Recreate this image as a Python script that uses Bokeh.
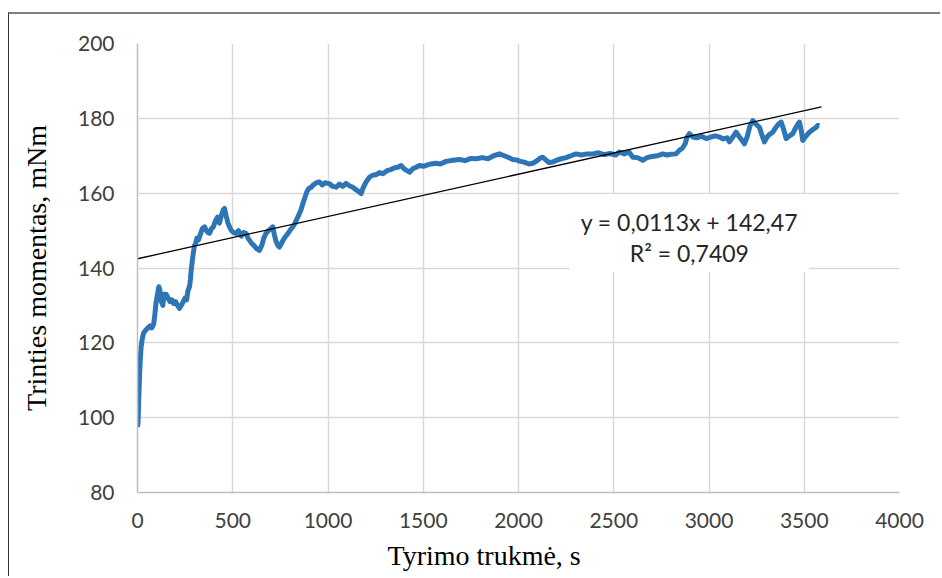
from bokeh.plotting import figure
from bokeh.models import Range1d, Label, Title, FixedTicker, ColumnDataSource
from bokeh.embed import file_html
from bokeh.resources import INLINE

# Friction torque over the test duration
time_s = [0, 3, 6, 10, 14, 19, 25, 31, 37, 45, 55, 65, 75, 85, 92, 98, 105, 112, 118, 125,
          133, 140, 150, 160, 170, 180, 190, 200, 210, 220, 230, 240, 250, 258, 265, 273, 278, 282, 288, 293,
          299, 305, 312, 320, 330, 340, 352, 362, 370, 378, 388, 398, 408, 420, 430, 440, 450, 457, 465, 475,
          483, 493, 505, 518, 530, 545, 558, 570, 580, 588, 600, 612, 625, 640, 652, 663, 675, 688, 700, 710,
          718, 728, 737, 745, 755, 765, 778, 789, 800, 812, 822, 833, 845, 858, 868, 880, 890, 900, 912, 925,
          940, 955, 970, 985, 1008, 1025, 1043, 1060, 1078, 1095, 1112, 1130, 1145, 1160, 1174, 1185, 1200, 1218, 1235, 1255,
          1270, 1288, 1310, 1330, 1350, 1370, 1384, 1400, 1415, 1428, 1445, 1465, 1480, 1500, 1515, 1540, 1565, 1590, 1620, 1655,
          1690, 1720, 1750, 1778, 1810, 1840, 1870, 1900, 1925, 1950, 1970, 1988, 2010, 2030, 2055, 2075, 2095, 2115, 2128, 2145,
          2160, 2180, 2200, 2225, 2250, 2275, 2302, 2330, 2360, 2390, 2420, 2450, 2480, 2510, 2530, 2555, 2580, 2600, 2625, 2652,
          2675, 2700, 2730, 2757, 2780, 2800, 2827, 2845, 2860, 2875, 2885, 2897, 2915, 2935, 2960, 2985, 3010, 3035, 3055, 3075,
          3095, 3107, 3125, 3142, 3160, 3175, 3186, 3200, 3215, 3230, 3245, 3265, 3278, 3291, 3305, 3320, 3335, 3350, 3365, 3379,
          3392, 3405, 3420, 3440, 3455, 3467, 3475, 3485, 3492, 3505, 3527, 3545, 3560, 3571, 3580]
torque_mNm = [97.5, 99, 104, 110, 115, 119, 121, 122.5, 123, 123.5, 124, 124.5, 124, 125, 128, 131, 133, 135, 134, 131,
              130, 133, 133, 132, 131, 131.5, 130.5, 131, 130, 129.2, 130, 131, 132, 131.5, 134, 135, 137, 139.5, 142, 144,
              146, 146.5, 148, 147.5, 149, 150.5, 151, 150, 149.5, 149.3, 150.5, 151, 152.5, 153.6, 152, 154, 155.5, 155.9, 154, 152,
              151, 150, 149.5, 149.2, 150, 148.5, 149.5, 149.2, 148, 147.4, 146.5, 146, 145.2, 144.7, 146, 148, 149.3, 150, 150.5, 151,
              149, 147, 146, 145.6, 146.5, 147.5, 148.5, 149.2, 150, 150.8, 151.5, 152.7, 154, 155.5, 157.2, 159, 160.5, 161.3, 161.6, 162.3,
              162.8, 163, 162.2, 162.8, 162.5, 161.8, 161.6, 162.4, 161.8, 162.6, 162, 161.6, 161, 160.5, 159.9, 161.5, 163, 164.3, 164.8, 165,
              165.5, 165.2, 166, 166.3, 166.8, 167, 167.4, 166.5, 166, 165.6, 166.5, 167, 167.4, 167.2, 167.4, 167.8, 168, 167.8, 168.5, 168.8,
              169, 168.7, 169.3, 169.2, 169.5, 169.2, 170, 170.5, 170, 169.5, 169, 168.9, 168.5, 168.3, 167.8, 168, 168.6, 169.4, 169.6, 168.8,
              168.2, 168.3, 168.8, 169.2, 169.5, 170, 170.5, 170.2, 170.5, 170.5, 170.8, 170.3, 170.6, 170.2, 171, 170.5, 171, 169.6, 169.5, 168.8,
              169.5, 169.8, 170, 170.5, 170.2, 170.4, 170.5, 171.5, 172, 173.2, 175, 175.9, 175, 174.8, 175.2, 174.6, 175, 175.3, 175, 174.5,
              174.8, 173.7, 175, 176.3, 175, 174, 173.2, 175, 178, 179.4, 178.5, 177.6, 175.5, 173.7, 175, 175.8, 176.3, 177.5, 178.5, 179,
              177, 174.6, 175.2, 175.9, 177.5, 178.5, 179, 176.5, 174.1, 175, 176.3, 177, 177.5, 178.1, 178]

# Linear trend line parameters
slope = 0.0113
intercept = 142.47
r_squared = "0,7409"
trend_x = [0, 3590]

x_ticks = [0, 500, 1000, 1500, 2000, 2500, 3000, 3500, 4000]
y_ticks = [80, 100, 120, 140, 160, 180, 200]

trend_y = [slope * t + intercept for t in trend_x]

p = figure(width=932, height=564, output_backend="svg", toolbar_location=None,
           x_range=Range1d(0, 4000), y_range=Range1d(80, 200),
           min_border_left=128, min_border_right=42, min_border_top=29, min_border_bottom=86,
           background_fill_color="white", border_fill_color="white")
p.outline_line_color = None
p.styles = {"margin-left": "8px", "margin-top": "12px",
            "border-left": "1.5px solid #333333", "border-top": "2px solid #808080"}

p.xaxis.ticker = FixedTicker(ticks=x_ticks)
p.yaxis.ticker = FixedTicker(ticks=y_ticks)
for ax in (p.xaxis, p.yaxis):
    ax.axis_line_color = "#bfbfbf"
    ax.axis_line_width = 1.5
    ax.major_tick_line_color = None
    ax.minor_tick_line_color = None
    ax.major_tick_out = 0
    ax.major_tick_in = 0
    ax.major_label_text_font = "Lato"
    ax.major_label_text_font_size = "21px"
    ax.major_label_text_color = "#404040"
p.xaxis.major_label_standoff = 20
p.yaxis.major_label_standoff = 23

p.yaxis.axis_label = "Trinties momentas, mNm"
p.yaxis.axis_label_text_font = "Liberation Serif"
p.yaxis.axis_label_text_font_size = "28px"
p.yaxis.axis_label_text_font_style = "normal"
p.yaxis.axis_label_text_color = "black"
p.yaxis.axis_label_standoff = 23

p.xgrid.grid_line_color = "#d9d9d9"
p.ygrid.grid_line_color = "#d9d9d9"
p.xgrid.grid_line_width = 1.5
p.ygrid.grid_line_width = 1.5

src = ColumnDataSource(dict(t=time_s, m=torque_mNm))
p.line("t", "m", source=src, line_color="#2e75b6", line_width=5, line_join="round")
p.line(trend_x, trend_y, line_color="black", line_width=1.3)

# white backing behind the trend equation
p.quad(left=[2268], right=[3527], bottom=[138.9], top=[159.7],
       fill_color="white", line_color=None)
p.add_layout(Label(x=2897, y=152.3, text=f"y = {str(slope).replace('.', ',')}x + {str(intercept).replace('.', ',')}",
                   text_font="Lato", text_font_size="23px", text_color="#262626",
                   text_align="center", text_baseline="middle"))
p.add_layout(Label(x=2897, y=143.9, text=f"R² = {r_squared}",
                   text_font="Lato", text_font_size="23px", text_color="#262626",
                   text_align="center", text_baseline="middle"))

# x-axis title, slightly left of centre
p.add_layout(Title(text="Tyrimo trukmė, s", align="left", offset=250, standoff=14,
                   text_font="Liberation Serif", text_font_size="28px",
                   text_font_style="normal", text_color="black",
                   text_line_height=0.8, vertical_align="bottom"), "below")

open("out.html", "w").write(file_html(p, INLINE))
